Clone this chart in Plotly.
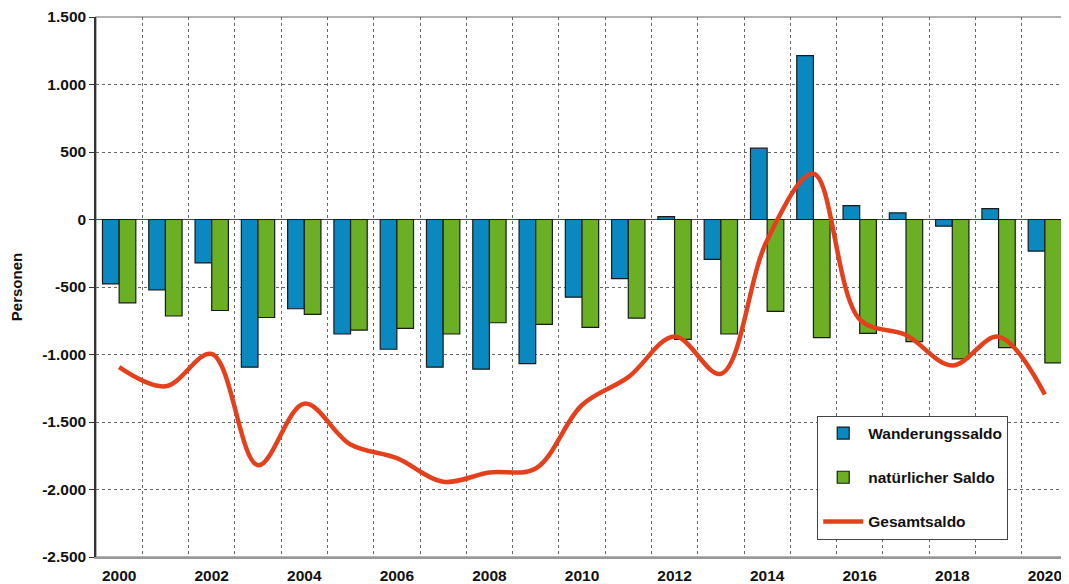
import plotly.graph_objects as go

years = list(range(2000, 2021))
wanderungssaldo = [-477, -521, -322, -1094, -661, -848, -961, -1094, -1109, -1067,
                   -575, -438, 22, -295, 528, 1214, 103, 49, -49, 81, -234]
natuerlicher_saldo = [-617, -715, -674, -726, -703, -819, -807, -848, -765, -777,
                      -799, -730, -888, -848, -681, -875, -843, -905, -1032, -949, -1062]
gesamtsaldo = [-1094, -1236, -996, -1820, -1364, -1667, -1768, -1942, -1874, -1844,
               -1374, -1168, -866, -1143, -153, 339, -740, -856, -1081, -868, -1296]

y_ticks = [-2500, -2000, -1500, -1000, -500, 0, 500, 1000, 1500]
y_ticktext = ["-2.500", "-2.000", "-1.500", "-1.000", "-500", "0", "500", "1.000", "1.500"]
x_ticks = list(range(2000, 2021, 2))

FONT = "Liberation Sans, Arial, sans-serif"
BLUE = "#0a88c0"
GREEN = "#6aaf24"
RED = "#e5401c"

fig = go.Figure()
fig.add_trace(go.Bar(x=years, y=wanderungssaldo, name="Wanderungssaldo",
                     marker=dict(color=BLUE, line=dict(color="#1a1a1a", width=1.2)),
                     legendgroup="a"))
fig.add_trace(go.Bar(x=years, y=natuerlicher_saldo, name="natürlicher Saldo",
                     marker=dict(color=GREEN, line=dict(color="#1a1a1a", width=1.2)),
                     legendgroup="b"))
fig.add_trace(go.Scatter(x=years, y=gesamtsaldo, name="Gesamtsaldo", mode="lines",
                         line=dict(color=RED, width=4.5, shape="spline", smoothing=1.0),
                         legendgroup="c"))

# page body has an 8px margin: compensate so the plot area lands where the reference has it
fig.update_layout(
    template="none",
    width=1061, height=576,
    margin=dict(l=88, r=1, t=9, b=27),
    paper_bgcolor="white", plot_bgcolor="white",
    barmode="group", bargap=0.28, bargroupgap=0,
    font=dict(family=FONT, size=15, color="#111"),
    showlegend=True,
    legend=dict(x=0.742, y=0.262, xanchor="left", yanchor="top",
                bgcolor="white", bordercolor="#444", borderwidth=1,
                font=dict(family=FONT, size=15.5, color="#111", weight="bold"),
                tracegroupgap=21, itemwidth=40, traceorder="grouped"),
    xaxis=dict(range=[1999.5, 2020.5], tickvals=x_ticks,
               ticktext=[f"<b>{y}</b>" for y in x_ticks],
               showgrid=False, zeroline=False, showline=True, linecolor="#999", linewidth=1.5,
               ticks="", automargin=False, tickfont=dict(size=15.5), ticklabelstandoff=4,
               ticklabeloverflow="allow",
               minor=dict(tick0=1999.5, dtick=1, showgrid=True, gridcolor="#666",
                          griddash="dot", gridwidth=1, ticks="")),
    yaxis=dict(range=[-2500, 1500], tickvals=y_ticks,
               ticktext=[f"<b>{t}</b>" for t in y_ticktext],
               showgrid=True, gridcolor="#666", griddash="dot", gridwidth=1,
               zeroline=True, zerolinecolor="#444", zerolinewidth=1,
               showline=True, linecolor="#333", linewidth=1.5,
               ticks="outside", ticklen=5, tickcolor="#333", automargin=False,
               tickfont=dict(size=15.5), ticklabeloverflow="allow",
               title=dict(text="<b>Personen</b>", font=dict(size=15), standoff=20)),
    shapes=[dict(type="rect", xref="paper", yref="paper", x0=0, x1=1, y0=0, y1=1,
                 line=dict(color="#999", width=1.5), layer="below")],
)

fig.write_html("out.html")
